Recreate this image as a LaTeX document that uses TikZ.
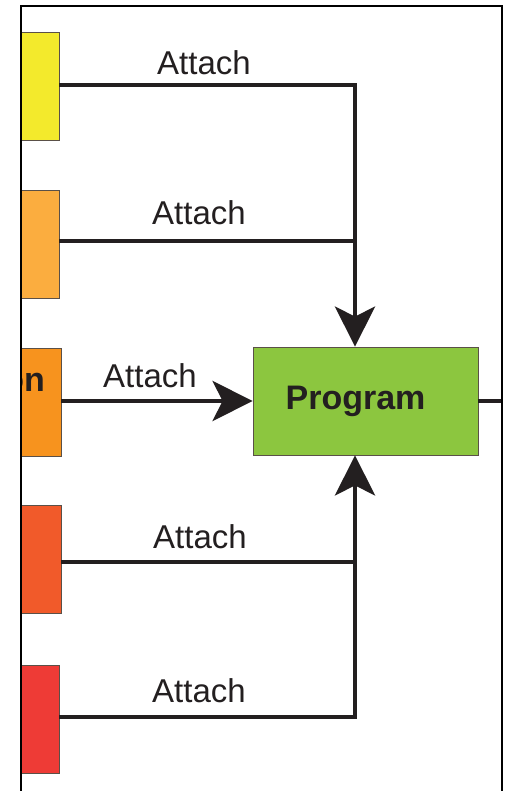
\documentclass[tikz,border=0pt]{standalone}
\usepackage{fontspec}
\setmainfont{Liberation Sans}
\usetikzlibrary{arrows.meta}

\definecolor{inkblack}{HTML}{231F20}
\definecolor{cYellow}{HTML}{F3EA2C}
\definecolor{cLightOrange}{HTML}{FBAD3F}
\definecolor{cOrange}{HTML}{F7931E}
\definecolor{cRedOrange}{HTML}{F15A2A}
\definecolor{cRed}{HTML}{EE3B36}
\definecolor{cGreen}{HTML}{8CC63F}
\definecolor{boxedge}{HTML}{5A5048}

\tikzset{
  srcbox/.style={draw=boxedge, line width=0.8pt, minimum height=108pt, inner sep=0pt},
  progbox/.style={draw=boxedge, line width=0.8pt, fill=cGreen, minimum width=225pt,
    minimum height=108pt, inner sep=0pt, font=\fontsize{34}{40}\selectfont\bfseries, text=inkblack},
  conn/.style={draw=inkblack, line width=4.8pt},
  arrowconn/.style={conn, -{Stealth[length=40pt, width=40pt, inset=10pt]}},
  attachlbl/.style={anchor=base west, inner sep=0pt, text=inkblack, font=\fontsize{33}{40}\selectfont},
  frameline/.style={draw=black, line width=2.2pt}
}

\begin{document}
\begin{tikzpicture}[x=1pt, y=-1pt]
  \useasboundingbox (0,0) rectangle (504,791);
  \fill[white] (0,0) rectangle (504,791);

  % source boxes on the left edge, cut off by the frame
  \begin{scope}
    \clip (21,0) rectangle (504,791);
    \node[srcbox, fill=cYellow,      minimum width=59pt] (src1) at (29.5,86) {};
    \node[srcbox, fill=cLightOrange, minimum width=59pt] (src2) at (29.5,244) {};
    \node[srcbox, fill=cOrange,      minimum width=61pt] (src3) at (30.5,402) {};
    \node[srcbox, fill=cRedOrange,   minimum width=61pt] (src4) at (30.5,559) {};
    \node[srcbox, fill=cRed,         minimum width=59pt] (src5) at (29.5,719) {};
    \node[anchor=base east, inner sep=0pt, text=inkblack,
          font=\fontsize{34}{40}\selectfont\bfseries] (src3txt) at (45,391) {on};
  \end{scope}

  % central program block (label sits a little left of centre)
  \node[progbox] (prog) at (365.5,401) {Program\kern20pt};

  % junction points on the vertical trunk
  \coordinate (j2) at (355,241);
  \coordinate (j4) at (355,562);
  \coordinate (outend) at (502,401);

  % connectors
  \draw[arrowconn] (src1.east |- 0,85) -| (prog.north -| 355,0);
  \draw[conn] (src2.east |- j2) -- (j2);
  \draw[arrowconn] (src3.east |- prog.west) -- (prog.west);
  \draw[conn] (src4.east |- j4) -- (j4);
  \draw[arrowconn] (src5.east |- 0,717) -| (prog.south -| 355,0);
  \draw[conn, line width=4.2pt] (prog.east) -- (outend);

  % connector labels
  \node[attachlbl] (lbl1) at (157,75)  {Attach};
  \node[attachlbl] (lbl2) at (152,225) {Attach};
  \node[attachlbl] (lbl3) at (103,387) {Attach};
  \node[attachlbl] (lbl4) at (153,548) {Attach};
  \node[attachlbl] (lbl5) at (152,702) {Attach};

  % open frame (no bottom edge)
  \draw[frameline] (21,791) -- (21,6) -- (502,6) -- (502,791);
\end{tikzpicture}
\end{document}
